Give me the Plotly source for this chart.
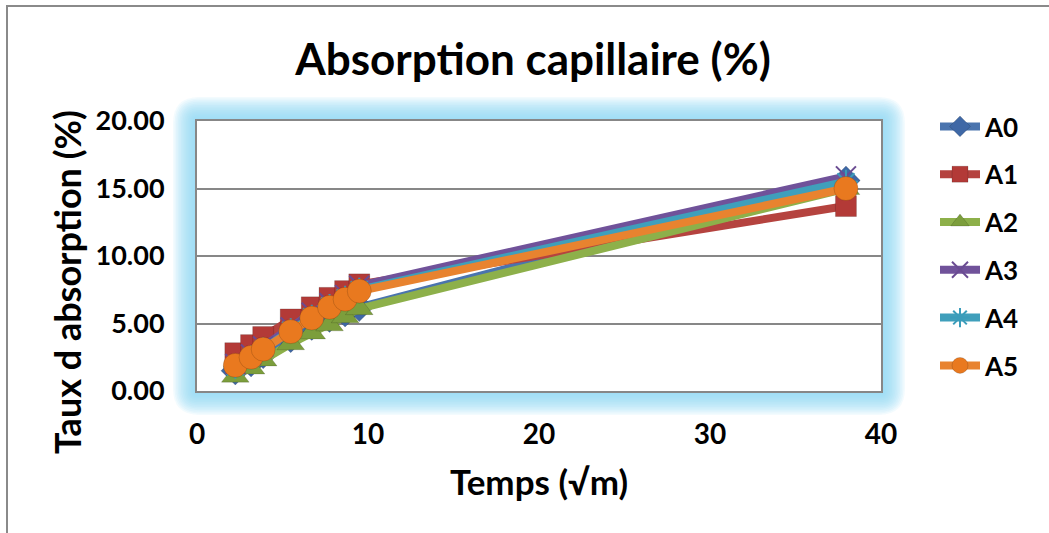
import math
import plotly.graph_objects as go

# ---- data ----
temps = [2.24, 3.16, 3.87, 5.48, 6.71, 7.75, 8.66, 9.49, 37.95]
A0 = [1.5, 2.1, 2.7, 3.9, 4.8, 5.4, 5.8, 6.2, 15.6]
A1 = [2.8, 3.4, 4.0, 5.3, 6.2, 6.9, 7.4, 7.9, 13.7]
A2 = [1.1, 1.7, 2.3, 3.5, 4.3, 4.9, 5.5, 6.1, 15.0]
A3 = [2.0, 2.7, 3.3, 4.7, 5.8, 6.5, 7.1, 7.8, 15.9]
A4 = [1.8, 2.5, 3.1, 4.5, 5.5, 6.3, 6.9, 7.5, 15.5]
A5 = [1.9, 2.5, 3.1, 4.4, 5.4, 6.2, 6.8, 7.4, 15.0]
series_names = ["A0", "A1", "A2", "A3", "A4", "A5"]
series_vals = [A0, A1, A2, A3, A4, A5]
x_ticks = [0, 10, 20, 30, 40]
y_ticks = [0, 5, 10, 15, 20]

# ---- styles ----
line_colors = ["#4a74ae", "#b5433f", "#8db04a", "#70529a", "#3f9fbb", "#e8832f"]
marker_colors = ["#3f68a6", "#b33a37", "#7c9e3c", "#6a4b92", "#3a9cba", "#e9791f"]
symbols = ["diamond", "square", "triangle-up", "x-thin-open", "asterisk-open", "circle"]
sizes = [22, 21, 24, 20, 20, 24]

W, H = 1049, 533
L, R, T, B = 197, 168, 121, 142
PW, PH = W - L - R, H - T - B

def px(x, y):
    return ((x - L) / PW, (H - B - y) / PH)

def rrect(x0, y0, x1, y1, r):
    def P(x, y):
        a, b = px(x, y)
        return f"{a:.5f},{b:.5f}"
    s = f"M{P(x0 + r, y0)} L{P(x1 - r, y0)} Q{P(x1, y0)} {P(x1, y0 + r)} "
    s += f"L{P(x1, y1 - r)} Q{P(x1, y1)} {P(x1 - r, y1)} "
    s += f"L{P(x0 + r, y1)} Q{P(x0, y1)} {P(x0, y1 - r)} "
    s += f"L{P(x0, y0 + r)} Q{P(x0, y0)} {P(x0 + r, y0)} Z"
    return s

fig = go.Figure()
for name, vals, lc, mc, sym, sz in zip(series_names, series_vals, line_colors,
                                        marker_colors, symbols, sizes):
    open_sym = sym.endswith("open")
    fig.add_trace(go.Scatter(
        x=temps, y=vals, name=f"<b>{name}</b>", mode="lines+markers", legendgroup=name,
        line=dict(color=lc, width=8),
        marker=dict(symbol=sym, size=sz, color=mc,
                    line=dict(color=mc if open_sym else "rgba(0,0,0,0.15)",
                              width=2 if open_sym else 1)),
    ))

shapes = []
# outer chart frame
fx0, fy0 = px(7, 6)
fx1, fy1 = px(W + 20, H + 20)
shapes.append(dict(type="rect", xref="paper", yref="paper", x0=fx0, y0=fy0, x1=fx1, y1=fy1,
                   line=dict(color="#8a8a8a", width=2), fillcolor="white", layer="below"))
# glow around plot area
N = 14
for k in range(N):
    e = 3 + 21 * k / (N - 1)
    shapes.append(dict(type="path", xref="paper", yref="paper",
                       path=rrect(L - e, T - e, L + PW + e, T + PH + e, e * 1.1),
                       fillcolor="rgba(140,220,243,0.10)", line=dict(width=0), layer="below"))
shapes.append(dict(type="rect", xref="paper", yref="paper", x0=0, y0=0, x1=1, y1=1,
                   fillcolor="white", line=dict(width=0), layer="below"))

font_family = "Lato, 'Open Sans', sans-serif"
ytx, yty = px(67, 282)
fig.update_layout(
    width=W, height=H,
    margin=dict(l=L, r=R, t=T, b=B),
    paper_bgcolor="white", plot_bgcolor="rgba(0,0,0,0)",
    shapes=shapes,
    font=dict(family=font_family, color="black"),
    title=dict(text="<b>Absorption capillaire (%)</b>", x=533 / W, xanchor="center",
               y=1 - 60 / H, yanchor="middle", font=dict(size=44, family=font_family)),
    xaxis=dict(range=[0, 40], tickvals=x_ticks, ticktext=[f"<b>{v}</b>" for v in x_ticks],
               tickfont=dict(size=28), showgrid=False, zeroline=False,
               showline=True, mirror=True, linecolor="#878787", linewidth=2,
               ticks="", ticklabelstandoff=17,
               title=dict(text="<b>Temps (√m)</b>", font=dict(size=35), standoff=22)),
    yaxis=dict(range=[0, 20], tickvals=y_ticks, ticktext=[f"<b>{v:.2f}</b>" for v in y_ticks],
               tickfont=dict(size=27), showgrid=True, gridcolor="#878787", gridwidth=2,
               zeroline=False, showline=True, mirror=True, linecolor="#878787", linewidth=2,
               ticks="", ticklabelstandoff=25),
    annotations=[dict(text="<b>Taux d absorption (%)</b>", xref="paper", yref="paper",
                      x=ytx, y=yty, xanchor="center", yanchor="middle", textangle=-90,
                      showarrow=False, font=dict(size=36))],
    legend=dict(x=px(935, 0)[0], y=px(0, 103)[1], xanchor="left", yanchor="top",
                font=dict(size=26), tracegroupgap=11, bgcolor="rgba(0,0,0,0)",
                itemwidth=40, maxheight=520),
    showlegend=True,
)

fig.write_html("out.html")
